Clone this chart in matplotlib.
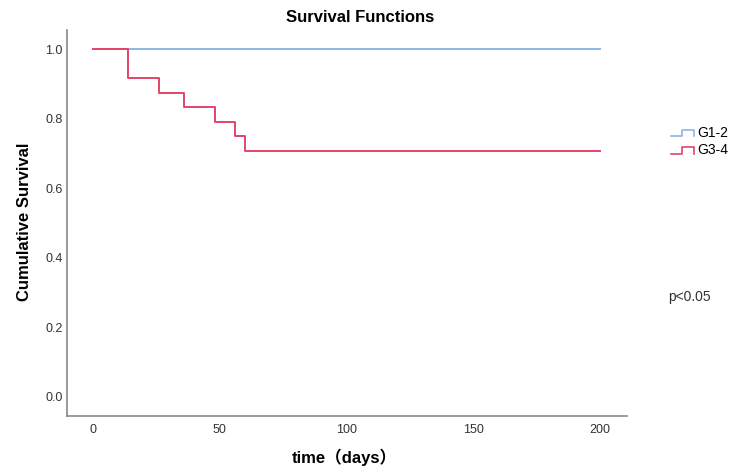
import matplotlib
matplotlib.use("Agg")
import matplotlib.pyplot as plt
from matplotlib.legend_handler import HandlerBase
from matplotlib.lines import Line2D

plt.rcParams['font.family'] = ['Liberation Sans', 'Noto Sans CJK SC', 'DejaVu Sans']

# Kaplan-Meier step data
g12_time = [0, 200]
g12_surv = [1.0, 1.0]
g34_time = [0, 14, 26, 36, 48, 56, 60, 200]
g34_surv = [1.0, 0.917, 0.875, 0.833, 0.792, 0.750, 0.708, 0.708]
groups = ["G1-2", "G3-4"]
colors = ['#8db6e6', '#e5436a']
yticks = [0.0, 0.2, 0.4, 0.6, 0.8, 1.0]
xticks = [0, 50, 100, 150, 200]


class StepHandler(HandlerBase):
    def create_artists(self, legend, orig, xd, yd, w, h, fontsize, trans):
        xs = [xd, xd + w * 0.5, xd + w * 0.5, xd + w, xd + w]
        ys = [yd + h * 0.05, yd + h * 0.05, yd + h * 0.75, yd + h * 0.75, yd + h * 0.05]
        ln = Line2D(xs, ys, color=orig.get_color(), lw=1.2, transform=trans)
        return [ln]


fig = plt.figure(figsize=(7.44, 4.72), dpi=100)
ax = fig.add_axes([0.0897, 0.119, 0.753, 0.817])

l1, = ax.step(g12_time, g12_surv, where='post', color=colors[0], lw=1.4)
l2, = ax.step(g34_time, g34_surv, where='post', color=colors[1], lw=1.4)

ax.set_xlim(-10.3, 210.7)
ax.set_ylim(-0.055, 1.055)
ax.set_xticks(xticks)
ax.set_yticks(yticks)
ax.set_yticklabels([f"{v:.1f}" for v in yticks])
ax.tick_params(length=0, labelsize=9, colors='#333333')
ax.tick_params(axis='y', pad=3)
ax.tick_params(axis='x', pad=6)
for s in ['top', 'right']:
    ax.spines[s].set_visible(False)
for s in ['left', 'bottom']:
    ax.spines[s].set_color('#888888')
    ax.spines[s].set_linewidth(1.2)

fig.text(360 / 744, 1 - 17 / 472, "Survival Functions", ha='center', va='center',
         fontsize=12, fontweight='bold')
fig.text(25 / 744, 1 - 222 / 472, "Cumulative Survival", ha='center', va='center',
         rotation=90, fontsize=12, fontweight='bold')
fig.text(344 / 744, 1 - 457 / 472, "time（days）", ha='center', va='center',
         fontsize=12, fontweight='bold')

leg = fig.legend([l1, l2], groups, loc='upper left', bbox_to_anchor=(664 / 744, 1 - 119 / 472),
                 frameon=False, fontsize=10, handler_map={Line2D: StepHandler()},
                 handlelength=1.65, handletextpad=0.25, labelspacing=0.22, borderpad=0)
fig.text(668 / 744, 1 - 297 / 472, "p<0.05", ha='left', va='center', fontsize=10, color='#333333')

fig.savefig("out.png", dpi=100)
